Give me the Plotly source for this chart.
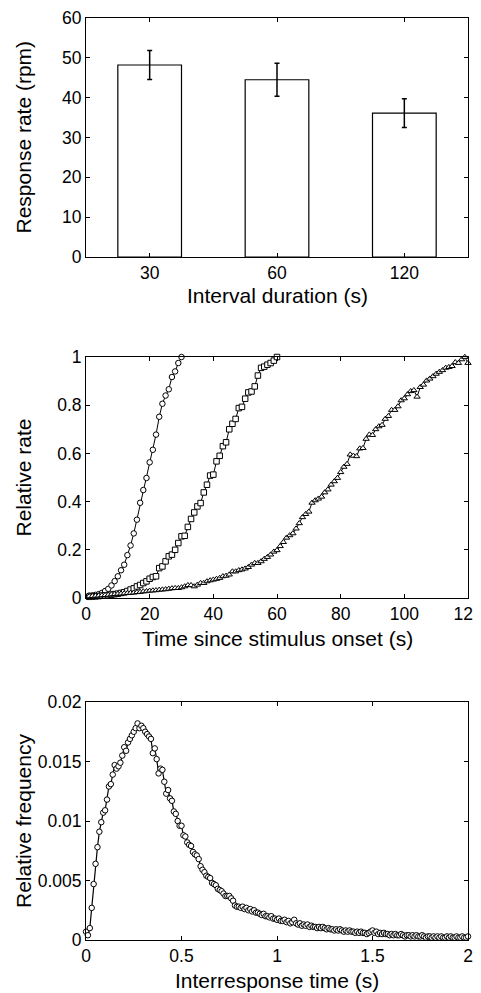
import plotly.graph_objects as go

# ---------------- Data ----------------
interval_labels = ["30", "60", "120"]
response_rate = [48.2, 44.5, 36.1]
response_err = [3.65, 4.15, 3.6]

t30 = list(range(1, 31))
rate30 = [0.010, 0.011, 0.013, 0.016, 0.021, 0.029, 0.038, 0.052, 0.070, 0.090,
          0.115, 0.138, 0.178, 0.218, 0.268, 0.325, 0.395, 0.448, 0.498, 0.563,
          0.615, 0.678, 0.752, 0.806, 0.840, 0.866, 0.917, 0.940, 0.975, 1.000]

t60 = list(range(1, 61))
rate60 = [0.005, 0.006, 0.007, 0.008, 0.010, 0.011, 0.012, 0.014, 0.016, 0.018,
          0.021, 0.024, 0.029, 0.035, 0.040, 0.048, 0.054, 0.062, 0.069, 0.080,
          0.087, 0.090, 0.124, 0.131, 0.152, 0.173, 0.180, 0.200, 0.228, 0.256,
          0.258, 0.295, 0.328, 0.355, 0.380, 0.394, 0.438, 0.470, 0.508, 0.512,
          0.567, 0.590, 0.630, 0.646, 0.700, 0.723, 0.743, 0.788, 0.793, 0.827,
          0.853, 0.857, 0.878, 0.923, 0.955, 0.960, 0.968, 0.975, 0.985, 1.000]

t120 = list(range(1, 121))
rate120 = [0.007, 0.008, 0.009, 0.010, 0.011, 0.012, 0.013, 0.015, 0.016, 0.017,
           0.018, 0.019, 0.020, 0.021, 0.022, 0.024, 0.025, 0.027, 0.028, 0.030,
           0.031, 0.032, 0.034, 0.035, 0.036, 0.038, 0.040, 0.041, 0.041, 0.044,
           0.048, 0.053, 0.053, 0.048, 0.055, 0.062, 0.062, 0.069, 0.073, 0.076,
           0.079, 0.083, 0.090, 0.092, 0.097, 0.110, 0.110, 0.115, 0.118, 0.122,
           0.128, 0.138, 0.145, 0.145, 0.152, 0.162, 0.170, 0.180, 0.192, 0.198,
           0.215, 0.232, 0.250, 0.260, 0.268, 0.288, 0.310, 0.335, 0.348, 0.358,
           0.395, 0.405, 0.412, 0.420, 0.438, 0.450, 0.470, 0.484, 0.498, 0.522,
           0.544, 0.556, 0.595, 0.590, 0.588, 0.620, 0.622, 0.660, 0.678, 0.676,
           0.700, 0.712, 0.718, 0.743, 0.755, 0.780, 0.780, 0.795, 0.820, 0.828,
           0.845, 0.858, 0.862, 0.835, 0.875, 0.885, 0.902, 0.910, 0.920, 0.930,
           0.938, 0.945, 0.955, 0.958, 0.962, 0.978, 0.975, 0.990, 1.000, 0.975]

irt_bin_width = 0.01
irt_freq = [0.0007, 0.0004, 0.0010, 0.0027, 0.0047, 0.0064, 0.0078, 0.0091, 0.0099, 0.0107,
            0.0109, 0.0118, 0.0129, 0.0131, 0.0139, 0.0147, 0.0144, 0.0146, 0.0149, 0.0155,
            0.0162, 0.0159, 0.0166, 0.0169, 0.0172, 0.0175, 0.0178, 0.0182, 0.0178, 0.0180,
            0.0178, 0.0175, 0.0173, 0.0171, 0.0169, 0.0157, 0.0161, 0.0152, 0.0140, 0.0144,
            0.0143, 0.0133, 0.0123, 0.0126, 0.0119, 0.0117, 0.0108, 0.0106, 0.0100, 0.0096,
            0.0096, 0.0088, 0.0087, 0.0082, 0.0080, 0.0079, 0.0074, 0.0072, 0.0071, 0.0068,
            0.0062, 0.0059, 0.0057, 0.0054, 0.0053, 0.0052, 0.0048, 0.0047, 0.0046, 0.0043,
            0.0042, 0.0041, 0.0039, 0.0037, 0.0037, 0.0037, 0.0035, 0.0033, 0.0029, 0.0028,
            0.0028, 0.0027, 0.0028, 0.0026, 0.0027, 0.0025, 0.0026, 0.0024, 0.0025, 0.0023,
            0.0023, 0.0022, 0.0021, 0.0022, 0.0020, 0.0020, 0.0019, 0.0020, 0.0018, 0.0018,
            0.0017, 0.0018, 0.0016, 0.0016, 0.0017, 0.0015, 0.0016, 0.0014, 0.0015, 0.0017,
            0.0014, 0.0013, 0.0014, 0.0012, 0.0013, 0.0012, 0.0013, 0.0011, 0.0012, 0.0011,
            0.0011, 0.0010, 0.0011, 0.0010, 0.0011, 0.0010, 0.0009, 0.0010, 0.0009, 0.0009,
            0.0008, 0.0009, 0.0008, 0.0009, 0.0008, 0.0007, 0.0008, 0.0007, 0.0008, 0.0007,
            0.0007, 0.0006, 0.0007, 0.0006, 0.0007, 0.0006, 0.0006, 0.0005, 0.0006, 0.0007,
            0.0008, 0.0006, 0.0007, 0.0005, 0.0006, 0.0005, 0.0006, 0.0005, 0.0005, 0.0004,
            0.0005, 0.0004, 0.0005, 0.0004, 0.0004, 0.0005, 0.0004, 0.0003, 0.0004, 0.0004,
            0.0003, 0.0004, 0.0003, 0.0004, 0.0003, 0.0003, 0.0004, 0.0003, 0.0002, 0.0003,
            0.0003, 0.0002, 0.0003, 0.0002, 0.0003, 0.0002, 0.0003, 0.0002, 0.0002, 0.0003,
            0.0002, 0.0003, 0.0002, 0.0002, 0.0003, 0.0002, 0.0002, 0.0003, 0.0002, 0.0002,
            0.0003]
irt_time = [round(i * irt_bin_width, 2) for i in range(len(irt_freq))]

# ---------------- Figure ----------------
OFF = 8                      # default page body margin
W, H = 481 - OFF, 993 - OFF  # figure size so that it fills the window exactly
FONT = "Liberation Sans, Arial, Helvetica, sans-serif"
TICKF = dict(family=FONT, size=17.5, color="black")
TITLEF = dict(family=FONT, size=21, color="black")

def px_x(x):
    return (x - OFF) / W

def px_y(y):
    return 1 - (y - OFF) / H

def ydom(top_px, bot_px):
    return [px_y(bot_px), px_y(top_px)]

xdom = [px_x(86), px_x(468)]
fig = go.Figure()

fig.add_trace(go.Bar(
    x=[1, 2, 3], y=response_rate, width=0.5,
    marker=dict(color="white", line=dict(color="black", width=1.2)),
    error_y=dict(type="data", array=response_err, color="black", thickness=1.5, width=2.5),
    xaxis="x", yaxis="y", showlegend=False))

mk = dict(color="white", size=5.5, line=dict(color="black", width=1))
fig.add_trace(go.Scatter(x=t30, y=rate30, mode="lines+markers",
                         line=dict(color="black", width=1),
                         marker=dict(symbol="circle", **mk), cliponaxis=False,
                         xaxis="x2", yaxis="y2", showlegend=False))
fig.add_trace(go.Scatter(x=t60, y=rate60, mode="lines+markers",
                         line=dict(color="black", width=1),
                         marker=dict(symbol="square", **mk), cliponaxis=False,
                         xaxis="x2", yaxis="y2", showlegend=False))
fig.add_trace(go.Scatter(x=t120, y=rate120, mode="lines+markers",
                         line=dict(color="black", width=1),
                         marker=dict(symbol="triangle-up", **mk), cliponaxis=False,
                         xaxis="x2", yaxis="y2", showlegend=False))

fig.add_trace(go.Scatter(x=irt_time, y=irt_freq, mode="lines+markers",
                         line=dict(color="black", width=1.2),
                         marker=dict(symbol="circle", **mk), cliponaxis=False,
                         xaxis="x3", yaxis="y3", showlegend=False))

ax = dict(showline=True, linecolor="black", linewidth=1, mirror="ticks",
          ticks="inside", ticklen=4, tickcolor="black", tickwidth=1,
          showgrid=False, zeroline=False, tickfont=TICKF, automargin=False,
          ticklabeloverflow="allow")

fig.update_layout(
    width=W, height=H, margin=dict(l=0, r=0, t=0, b=0),
    paper_bgcolor="white", plot_bgcolor="white",
    xaxis=dict(domain=xdom, range=[0.5, 3.5], tickvals=[1, 2, 3], ticktext=interval_labels,
               anchor="y", **ax),
    yaxis=dict(domain=ydom(18, 257), range=[0, 60], tickvals=[0, 10, 20, 30, 40, 50, 60],
               anchor="x", **ax),
    xaxis2=dict(domain=xdom, range=[0, 120], tickvals=[0, 20, 40, 60, 80, 100, 120],
                anchor="y2", **ax),
    yaxis2=dict(domain=ydom(357, 598), range=[0, 1], tickvals=[0, 0.2, 0.4, 0.6, 0.8, 1],
                ticktext=["0", "0.2", "0.4", "0.6", "0.8", "1"], anchor="x2", **ax),
    xaxis3=dict(domain=xdom, range=[0, 2], tickvals=[0, 0.5, 1, 1.5, 2],
                ticktext=["0", "0.5", "1", "1.5", "2"], anchor="y3", **ax),
    yaxis3=dict(domain=ydom(702, 940), range=[0, 0.02],
                tickvals=[0, 0.005, 0.01, 0.015, 0.02],
                ticktext=["0", "0.005", "0.01", "0.015", "0.02"], anchor="x3", **ax),
)

def title_ann(text, x_px, y_px, angle=0):
    fig.add_annotation(text=text, x=px_x(x_px), y=px_y(y_px), xref="paper", yref="paper",
                       showarrow=False, textangle=angle, font=TITLEF,
                       xanchor="center", yanchor="middle")

cx = (86 + 468) / 2
title_ann("Interval duration (s)", cx, 295)
title_ann("Response rate (rpm)", 23, (18 + 257) / 2, -90)
title_ann("Time since stimulus onset (s)", cx, 638)
title_ann("Relative rate", 23, (357 + 598) / 2, -90)
title_ann("Interresponse time (s)", cx, 980)
title_ann("Relative frequency", 23, (702 + 940) / 2, -90)

fig.write_html("out.html")
